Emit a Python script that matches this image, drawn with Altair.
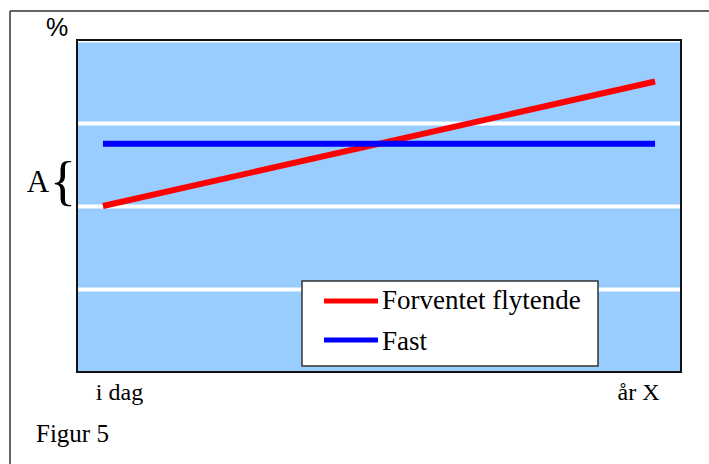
import altair as alt
import pandas as pd

# Rate paths over the period (level units on a 0-4 scale)
series = ["Forventet flytende", "Fast"]
colors = ["#FF0000", "#0000FF"]
t_points = [0, 1]
floating = [2.0, 3.5]
fixed = [2.75, 2.75]

tick_labels = ["i dag", "år X"]
tick_pos = [0.03, 0.97]

W, H = 604, 332
OX, OY = 77, 40  # plot origin inside the page

rows = []
for t, v in zip(t_points, floating):
    rows.append({"serie": series[0], "t": t, "v": v})
for t, v in zip(t_points, fixed):
    rows.append({"serie": series[1], "t": t, "v": v})
df = pd.DataFrame(rows)

xs = alt.Scale(domain=[-0.047, 1.047], nice=False, zero=False)
ys = alt.Scale(domain=[0, 4], nice=False)

lines = alt.Chart(df).mark_line(strokeWidth=6, strokeCap="butt").encode(
    x=alt.X("t:Q", scale=xs, axis=None),
    y=alt.Y("v:Q", scale=ys,
            axis=alt.Axis(values=[1, 2, 3, 4], grid=True, gridColor="white",
                          gridWidth=4, gridOpacity=1, ticks=False, labels=False,
                          domain=False, title=None)),
    color=alt.Color("serie:N", scale=alt.Scale(domain=series, range=colors), legend=None),
    detail="serie:N",
)

# plot-area border
border = alt.Chart(pd.DataFrame({"a": [0]})).mark_rect(
    fill="transparent", stroke="#111111", strokeWidth=2
).encode(x=alt.value(0), x2=alt.value(W), y=alt.value(0), y2=alt.value(H))

ticks_df = pd.DataFrame({"t": tick_pos, "label": tick_labels})
xlabels = alt.Chart(ticks_df).mark_text(
    font="Liberation Serif", fontSize=24, color="black", baseline="alphabetic", align="center"
).encode(x=alt.X("t:Q", scale=xs), y=alt.value(H + 28), text="label:N")

def label(txt, x, y, size, font="Liberation Serif", align="left"):
    return alt.Chart(pd.DataFrame({"s": [txt]})).mark_text(
        font=font, fontSize=size, color="black", baseline="alphabetic", align=align
    ).encode(x=alt.value(x), y=alt.value(y), text="s:N")

pct = label("%", -20, -4, 25, font="Liberation Sans", align="center")
a_lbl = label("A", -39, 152, 31, align="center")
brace = label("{", -14, 159, 55, align="center")
fig = label("Figur 5", -41, 402, 25)

# legend box
leg_box = alt.Chart(pd.DataFrame({"a": [0]})).mark_rect(
    fill="white", stroke="#333333", strokeWidth=1.5
).encode(x=alt.value(225), x2=alt.value(521), y=alt.value(241), y2=alt.value(326))

leg_df = pd.DataFrame({
    "serie": series,
    "ly": [261, 300],
    "ty": [269, 310],
})
leg_lines = alt.Chart(leg_df).mark_rule(strokeWidth=5).encode(
    x=alt.value(247), x2=alt.value(301), y=alt.Y("ly:Q", scale=None),
    color=alt.Color("serie:N", scale=alt.Scale(domain=series, range=colors), legend=None),
)
leg_text = alt.Chart(leg_df).mark_text(
    font="Liberation Serif", fontSize=27, color="black", align="left", baseline="alphabetic"
).encode(x=alt.value(305), y=alt.Y("ty:Q", scale=None), text="serie:N")

# page frame
frame_top = alt.Chart(pd.DataFrame({"a": [0]})).mark_rule(color="#333333", strokeWidth=1.5).encode(
    x=alt.value(-OX + 10), x2=alt.value(709 - OX), y=alt.value(-OY + 11))
frame_left = alt.Chart(pd.DataFrame({"a": [0]})).mark_rule(color="#333333", strokeWidth=1.5).encode(
    x=alt.value(-OX + 10), y=alt.value(-OY + 11), y2=alt.value(464 - OY))

chart = alt.layer(
    lines, border, xlabels, pct, a_lbl, brace, fig, leg_box, leg_lines, leg_text,
    frame_top, frame_left
).properties(
    width=W, height=H,
    autosize=alt.AutoSizeParams(type="none"),
    padding={"left": OX, "top": OY, "right": 709 - OX - W, "bottom": 464 - OY - H},
    background="white",
).configure_view(
    fill="#99CCFF", stroke="#111111", strokeWidth=2
)

chart.save("out.html", embed_options={"renderer": "svg", "actions": False})
